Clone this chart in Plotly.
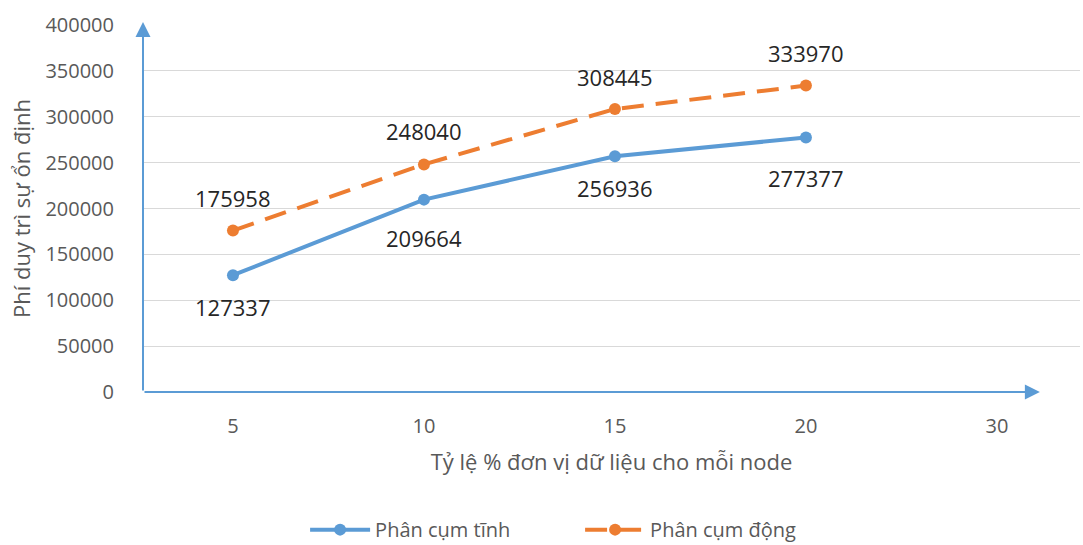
import plotly.graph_objects as go

categories = ["5", "10", "15", "20", "30"]
static_x = ["5", "10", "15", "20"]
static_vals = [127337, 209664, 256936, 277377]
dynamic_x = ["5", "10", "15", "20"]
dynamic_vals = [175958, 248040, 308445, 333970]
y_ticks = [0, 50000, 100000, 150000, 200000, 250000, 300000, 350000, 400000]

BLUE = "#5B9BD5"
ORANGE = "#ED7D31"
FONT = "Open Sans, Noto Sans, sans-serif"

static_label_shift = [-32, -38, -32, -40]
dynamic_label_shift = [33, 33, 32, 33]

fig = go.Figure()
fig.add_trace(go.Scatter(
    x=static_x, y=static_vals, name="Phân cụm tĩnh", mode="lines+markers",
    line=dict(color=BLUE, width=4), marker=dict(color=BLUE, size=12),
))
fig.add_trace(go.Scatter(
    x=dynamic_x, y=dynamic_vals, name="Phân cụm động", mode="lines+markers",
    line=dict(color=ORANGE, width=4, dash="22px,12px"), marker=dict(color=ORANGE, size=12),
))

annotations = []
for xv, yv, s in zip(static_x, static_vals, static_label_shift):
    annotations.append(dict(x=categories.index(xv), y=yv, xref="x", yref="y", text=str(yv),
                            showarrow=False, yshift=s,
                            font=dict(family=FONT, size=22, color="#262626")))
for xv, yv, s in zip(dynamic_x, dynamic_vals, dynamic_label_shift):
    annotations.append(dict(x=categories.index(xv), y=yv, xref="x", yref="y", text=str(yv),
                            showarrow=False, yshift=s,
                            font=dict(family=FONT, size=22, color="#262626")))

x_lo, x_hi = -0.471, 4.435
# axis arrows
annotations.append(dict(x=4.225, y=0, ax=x_lo, ay=0, axref="x", ayref="y", xref="x", yref="y",
                        text="", showarrow=True, arrowhead=2, arrowsize=1.5, arrowwidth=2,
                        arrowcolor=BLUE))
annotations.append(dict(x=x_lo, y=403300, ax=x_lo, ay=0, axref="x", ayref="y", xref="x", yref="y",
                        text="", showarrow=True, arrowhead=2, arrowsize=1.5, arrowwidth=2,
                        arrowcolor=BLUE))

fig.update_layout(
    width=1083, height=545,
    margin=dict(l=143, r=3, t=25, b=153, autoexpand=False),
    paper_bgcolor="white", plot_bgcolor="white",
    font=dict(family=FONT, color="#595959", size=20),
    showlegend=True,
    legend=dict(orientation="h", x=0.173, xanchor="left", y=-0.375, yanchor="middle",
                font=dict(size=20, color="#595959"), itemwidth=60,
                entrywidth=200, entrywidthmode="pixels"),
    annotations=annotations,
)
fig.update_xaxes(
    type="category", categoryorder="array", categoryarray=categories,
    tickvals=categories, ticktext=categories, automargin=False,
    range=[x_lo, x_hi], showgrid=False, zeroline=False, showline=False,
    ticks="", ticklabelstandoff=20,
    tickfont=dict(size=20, color="#595959"),
    title=dict(text="Tỷ lệ % đơn vị dữ liệu cho mỗi node", font=dict(size=22, color="#595959"),
               standoff=16),
)
fig.update_yaxes(
    range=[0, 400000], tickvals=y_ticks, ticktext=[str(v) for v in y_ticks], automargin=False,
    showgrid=True, gridcolor="#D9D9D9", gridwidth=1, zeroline=False, showline=False,
    ticks="", ticklabelstandoff=28,
    tickfont=dict(size=20, color="#595959"),
    title=dict(text="Phí duy trì sự ổn định", font=dict(size=22, color="#595959"), standoff=8),
)

fig.write_html("out.html", config={"displayModeBar": False},
               post_script="document.body.style.margin='0';document.body.style.overflow='hidden';")
